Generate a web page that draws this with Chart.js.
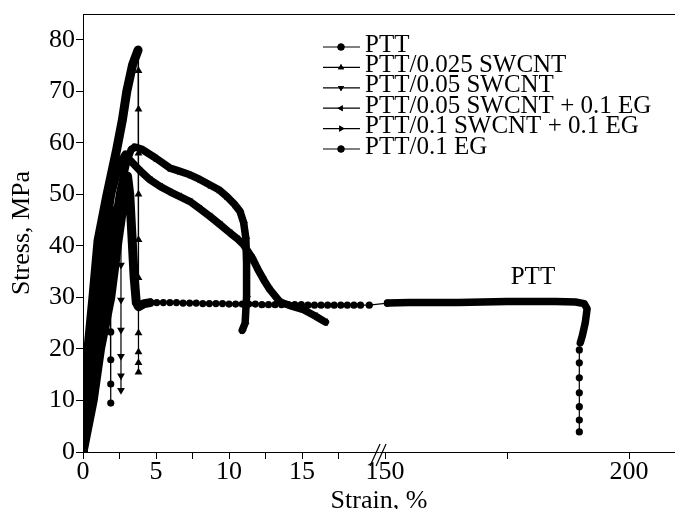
<!DOCTYPE html>
<html>
<head>
<meta charset="utf-8">
<script src="https://cdn.jsdelivr.net/npm/chart.js@4.4.0/dist/chart.umd.min.js"></script>
<style>
    html, body { margin: 0; padding: 0; background: #fff; }
    #grafico { display: block; }
</style>
</head>
<body>
<canvas id="grafico" width="675" height="509"></canvas>
<script>
// Nomes das séries (legenda)
const nomesSeries = ['PTT', 'PTT/0.025 SWCNT', 'PTT/0.05 SWCNT', 'PTT/0.05 SWCNT + 0.1 EG', 'PTT/0.1 SWCNT + 0.1 EG', 'PTT/0.1 EG'];

// Ticks dos eixos
const xTicksMaiores = [0, 5, 10, 15, 150, 200];
const xTicksMenores = [2.5, 7.5, 12.5, 17.5, 175];
const yTicks = [0, 10, 20, 30, 40, 50, 60, 70, 80];

// Dados: [strain %, stress MPa]
// PTT
const pttSubida = [[0, 0], [0.7, 10], [1.2, 20], [1.9, 30], [2.4, 41], [2.8, 49], [3.05, 53.5], [3.2, 50], [3.35, 42], [3.5, 34], [3.65, 29], [3.8, 28.2], [4.2, 28.8], [4.6, 29.0]];
const pttPlato = [[4.6, 29.0], [5.05, 29.0], [5.5, 29.0], [5.95, 29.0], [6.4, 29.0], [6.85, 28.9], [7.3, 28.9], [7.75, 28.9], [8.2, 28.8], [8.65, 28.8],
    [9.1, 28.8], [9.55, 28.8], [10.0, 28.7], [10.45, 28.7], [10.9, 28.7], [11.35, 28.7], [11.8, 28.7], [12.25, 28.6], [12.7, 28.6], [13.15, 28.6],
    [13.6, 28.6], [14.05, 28.6], [14.5, 28.6], [14.95, 28.6], [15.4, 28.5], [15.85, 28.5], [16.3, 28.5], [16.75, 28.5], [17.2, 28.5], [17.65, 28.5],
    [18.1, 28.5], [18.55, 28.5], [19.0, 28.5], [19.6, 28.5], [150.5, 28.9]];
const pttFinal = [[150.5, 28.9], [155, 29.0], [160, 29.0], [165, 29.0], [170, 29.1], [175, 29.2], [180, 29.2], [185, 29.2], [189, 29.1], [190.8, 28.8], [191.4, 27.8], [191.0, 25.0], [190.4, 22.5], [190.0, 21.2]];
const pttQueda = [[190.0, 21.2], [189.8, 19.8], [189.8, 17.3], [189.8, 14.4], [189.8, 11.5], [189.8, 8.8], [189.8, 6.2], [189.8, 3.9]];

// PTT/0.025 SWCNT
const swcnt025Subida = [[0, 0], [0.12, 10], [0.34, 20], [0.68, 30], [1.03, 41], [1.62, 49.6], [2.3, 58.6], [2.7, 64.5], [3.0, 70], [3.4, 75.2], [3.77, 78]];
const swcnt025Queda = [[3.77, 78], [3.8, 74], [3.8, 66.5], [3.8, 58], [3.8, 50], [3.8, 41.2], [3.8, 33.8], [3.8, 28.2], [3.8, 23.1], [3.8, 19.4], [3.8, 17.3], [3.8, 15.5]];

// PTT/0.05 SWCNT
const swcnt05Subida = [[0, 0], [0.4, 10], [0.75, 20], [1.15, 30], [1.7, 40], [2.3, 47], [2.6, 48.5]];
const swcnt05Queda = [[2.6, 48.5], [2.6, 43.7], [2.6, 36.3], [2.6, 29.5], [2.6, 23.7], [2.6, 18.6], [2.6, 14.8], [2.6, 12.0]];

// PTT/0.05 SWCNT + 0.1 EG
const swcnt05Eg = [[0, 0], [0.3, 10], [0.6, 20], [0.95, 30], [1.4, 40], [1.95, 50], [2.5, 56], [2.9, 57.8], [3.2, 56.7], [3.9, 54.6], [4.6, 52.8], [5.3, 51.5], [5.96, 50.5],
    [6.6, 49.6], [7.33, 48.6], [8.0, 47.2], [8.7, 45.7], [9.4, 44.1], [10.07, 42.5], [10.6, 41.3], [11.0, 40.2], [11.6, 37.6], [12.0, 35.3],
    [12.4, 33.3], [12.8, 31.5], [13.5, 29.1], [14.3, 28.3], [15.1, 27.6], [15.9, 26.4], [16.6, 25.2]];

// PTT/0.1 SWCNT + 0.1 EG
const swcnt1Eg = [[0, 0], [0.5, 10], [0.95, 20], [1.45, 30], [2.0, 41], [2.5, 50], [3.0, 56.5], [3.3, 58.7], [3.56, 59.2], [4.0, 58.8], [5.0, 57.0], [5.96, 55.1],
    [6.6, 54.5], [7.33, 53.8], [8.0, 52.9], [8.7, 51.8], [9.3, 50.9], [9.84, 49.6], [10.4, 48.0], [10.75, 46.7], [11.0, 44.5], [11.15, 41.5],
    [11.2, 36.7], [11.2, 30.2], [11.1, 25.0], [10.9, 23.6]];

// PTT/0.1 EG
const eg1Subida = [[0, 0], [0.2, 10], [0.45, 20], [0.8, 30], [1.25, 40], [1.85, 47]];
const eg1Queda = [[1.85, 47], [1.9, 29.5], [1.9, 23.3], [1.9, 17.9], [1.9, 13.2], [1.9, 9.5]];

// Quebra do eixo x: 0..~20 em escala normal, 150..210 comprimido
const fatorQuebra = 4.88 / 14.6;
const posicao150 = 20.68;
const posicaoQuebra = 20.27;
const strainMax = 209.4;

function paraEixo(s) {
    if (s <= 20) return s;
    return posicao150 + (s - 150) * fatorQuebra;
}
function doEixo(v) {
    if (v <= 20) return v;
    return 150 + (v - posicao150) / fatorQuebra;
}
function pontos(lista) {
    return lista.map(function (p) { return { x: paraEixo(p[0]), y: p[1] }; });
}

// Linha grossa (marcadores densos no original)
function grossa(lista, largura, estilo, rotacao, raio) {
    return {
        data: pontos(lista),
        borderColor: '#000',
        borderWidth: largura,
        borderJoinStyle: 'round',
        borderCapStyle: 'round',
        pointRadius: raio || 0,
        pointStyle: estilo || 'circle',
        rotation: rotacao || 0,
        pointBackgroundColor: '#000',
        pointBorderColor: '#000',
        pointBorderWidth: 0
    };
}
// Linha fina com marcadores visíveis
function fina(lista, estilo, rotacao, raio) {
    return {
        data: pontos(lista),
        borderColor: '#000',
        borderWidth: 1.2,
        pointRadius: function (c) { return c.dataIndex === 0 ? 0 : raio; },
        pointStyle: estilo,
        rotation: rotacao,
        pointBackgroundColor: '#000',
        pointBorderColor: '#000',
        pointBorderWidth: 0
    };
}

const estilosLegenda = [
    { pointStyle: 'circle', rotation: 0 },
    { pointStyle: 'triangle', rotation: 0 },
    { pointStyle: 'triangle', rotation: 180 },
    { pointStyle: 'triangle', rotation: 270 },
    { pointStyle: 'triangle', rotation: 90 },
    { pointStyle: 'circle', rotation: 0 }
];

// Plugin para borda superior, quebra do eixo, rótulo e legenda
const decoracoes = {
    id: 'decoracoes',
    afterDraw: function (chart) {
        const ctx = chart.ctx;
        const area = chart.chartArea;
        const sx = chart.scales.x;
        const sy = chart.scales.y;
        ctx.save();
        ctx.strokeStyle = '#000';
        ctx.lineWidth = 1;
        ctx.beginPath();
        ctx.moveTo(area.left, area.top + 0.5);
        ctx.lineTo(area.right, area.top + 0.5);
        ctx.stroke();

        // marcas "//" da quebra
        const bx = sx.getPixelForValue(posicaoQuebra);
        const by = area.bottom;
        ctx.lineWidth = 1.2;
        ctx.beginPath();
        ctx.moveTo(bx - 9, by + 14); ctx.lineTo(bx + 1, by - 8);
        ctx.moveTo(bx - 3, by + 14); ctx.lineTo(bx + 7, by - 8);
        ctx.stroke();

        // rótulo PTT
        ctx.fillStyle = '#000';
        ctx.font = '25px "Liberation Serif"';
        ctx.textAlign = 'center';
        ctx.textBaseline = 'middle';
        ctx.fillText('PTT', sx.getPixelForValue(paraEixo(180.3)), sy.getPixelForValue(33.8));

        // legenda
        ctx.textAlign = 'left';
        for (let i = 0; i < nomesSeries.length; i++) {
            const ly = 45 + i * 20.4;
            ctx.lineWidth = 1.2;
            ctx.beginPath();
            ctx.moveTo(323, ly + 2);
            ctx.lineTo(360, ly + 2);
            ctx.stroke();
            Chart.helpers.drawPoint(ctx, {
                pointStyle: estilosLegenda[i].pointStyle,
                rotation: estilosLegenda[i].rotation,
                radius: 3.5,
                borderWidth: 0
            }, 341, ly + 2);
            ctx.fill();
            ctx.fillText(nomesSeries[i], 365, ly);
        }
        ctx.restore();
    }
};

const fonte = { family: 'Liberation Serif', size: 26 };

const config = {
    type: 'line',
    data: {
        datasets: [
            grossa(pttSubida, 9),
            fina(pttPlato, 'circle', 0, 3.6),
            grossa(pttFinal, 7.5),
            fina(pttQueda, 'circle', 0, 3.6),
            grossa(swcnt025Subida, 9),
            fina(swcnt025Queda, 'triangle', 0, 4.5),
            grossa(swcnt05Subida, 9),
            fina(swcnt05Queda, 'triangle', 180, 4.5),
            grossa(swcnt05Eg, 7.5, 'triangle', 270, 4.5),
            grossa(swcnt1Eg, 7.5, 'triangle', 90, 4.5),
            grossa(eg1Subida, 9),
            fina(eg1Queda, 'circle', 0, 3.6)
        ]
    },
    options: {
        responsive: false,
        animation: false,
        devicePixelRatio: 1,
        layout: { autoPadding: false, padding: { top: 14, right: 0, left: 0, bottom: 0 } },
        plugins: {
            legend: { display: false },
            tooltip: { enabled: false }
        },
        scales: {
            x: {
                type: 'linear',
                min: 0,
                max: paraEixo(strainMax),
                afterBuildTicks: function (eixo) {
                    const todos = xTicksMaiores.concat(xTicksMenores).sort(function (a, b) { return a - b; });
                    eixo.ticks = todos.map(function (v) { return { value: paraEixo(v) }; });
                },
                afterFit: function (eixo) {
                    eixo.height = 57;
                    eixo.paddingLeft = 0;
                    eixo.paddingRight = 0;
                },
                ticks: {
                    font: fonte,
                    color: '#000',
                    padding: -2,
                    autoSkip: false,
                    maxRotation: 0,
                    callback: function (valor) {
                        const s = Math.round(doEixo(valor) * 10) / 10;
                        return xTicksMaiores.indexOf(s) >= 0 ? String(s) : '';
                    }
                },
                grid: { drawOnChartArea: false, drawTicks: true, tickLength: 7, color: '#000', lineWidth: 1 },
                border: { display: true, color: '#000', width: 1 },
                title: {
                    display: true,
                    text: 'Strain, %',
                    color: '#000',
                    font: { family: 'Liberation Serif', size: 26, lineHeight: 0.8 },
                    padding: { top: 0, bottom: -3 }
                }
            },
            y: {
                min: 0,
                max: 85,
                afterBuildTicks: function (eixo) {
                    eixo.ticks = yTicks.map(function (v) { return { value: v }; });
                },
                afterFit: function (eixo) {
                    eixo.width = 83;
                    eixo.paddingTop = 0;
                    eixo.paddingBottom = 0;
                },
                ticks: { font: fonte, color: '#000', padding: 1 },
                grid: { drawOnChartArea: false, drawTicks: true, tickLength: 7, color: '#000', lineWidth: 1 },
                border: { display: true, color: '#000', width: 1 },
                title: {
                    display: true,
                    text: 'Stress, MPa',
                    color: '#000',
                    font: { family: 'Liberation Serif', size: 26, lineHeight: 0.8 },
                    padding: { top: 12, bottom: 0 }
                }
            }
        }
    },
    plugins: [decoracoes]
};

let grafico = new Chart(document.getElementById('grafico'), config);
</script>
</body>
</html>
